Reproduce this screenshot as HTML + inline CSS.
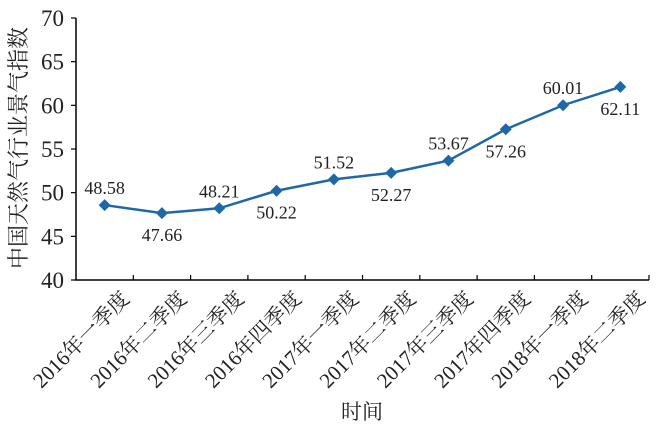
<!DOCTYPE html>
<html><head><meta charset="utf-8"><style>
body{margin:0;background:#fff}
svg{display:block;font-family:"Liberation Serif","Noto Serif CJK SC",serif}
</style></head><body>
<svg id="c" width="658" height="431"></svg>
<script>
const categories=["2016年一季度","2016年二季度","2016年三季度","2016年四季度","2017年一季度","2017年二季度","2017年三季度","2017年四季度","2018年一季度","2018年二季度"];
const values=[48.58,47.66,48.21,50.22,51.52,52.27,53.67,57.26,60.01,62.11];
const yTicks=[40,45,50,55,60,65,70];
const NS="http://www.w3.org/2000/svg";
const svg=document.getElementById('c');
const L=76,R=649,T=18,B=280,yMin=40,yMax=70;
const bw=(R-L)/categories.length;
const x=i=>L+bw*(i+0.5);
const y=v=>B-(v-yMin)/(yMax-yMin)*(B-T);
function mk(t,a,p){const e=document.createElementNS(NS,t);for(const k in a)e.setAttribute(k,a[k]);(p||svg).appendChild(e);return e;}
const ax=mk('path',{d:`M${L} ${T} L${L} ${B} L${R} ${B}`,stroke:'#000','stroke-width':1.5,fill:'none'});


yTicks.forEach(v=>{
 const tk=mk('line',{x1:L-5,x2:L,y1:y(v),y2:y(v),stroke:'#000','stroke-width':1.2});
 
 
 const t=mk('text',{x:L-12,y:y(v)+8,'text-anchor':'end','font-size':23,fill:'#222'});
 t.textContent=v;
 
 
});
categories.forEach((c,i)=>{
 const tx=L+bw*(i+1);
 const tk=mk('line',{x1:tx,x2:tx,y1:B-5,y2:B,stroke:'#000','stroke-width':1.2});
 
 
 const t=mk('text',{x:x(i)+26,y:B+20,'text-anchor':'end','font-size':21,fill:'#222',transform:`rotate(-45 ${x(i)+26} ${B+20})`});
 t.textContent=c;
 
 
});
const line=mk('polyline',{points:values.map((v,i)=>x(i)+','+y(v)).join(' '),fill:'none',stroke:'#1f68a8','stroke-width':2.5});


values.forEach((v,i)=>{
 const px=x(i),py=y(v);
 const m=mk('path',{d:`M${px} ${py-6} L${px+6} ${py} L${px} ${py+6} L${px-6} ${py}Z`,fill:'#1f68a8'});
 
 
 const t=mk('text',{x:px,y:i%2===0?py-11:py+28,'text-anchor':'middle','font-size':18,fill:'#222'});
 t.textContent=v.toFixed(2);
 
 
});
const xt=mk('text',{x:362,y:419,'text-anchor':'middle','font-size':21,fill:'#222'});
xt.textContent='时间';


const yt=mk('text',{x:26,y:148,'text-anchor':'middle','font-size':22,fill:'#222',transform:'rotate(-90 26 148)'});
yt.textContent='中国天然气行业景气指数';


</script>
</body></html>
